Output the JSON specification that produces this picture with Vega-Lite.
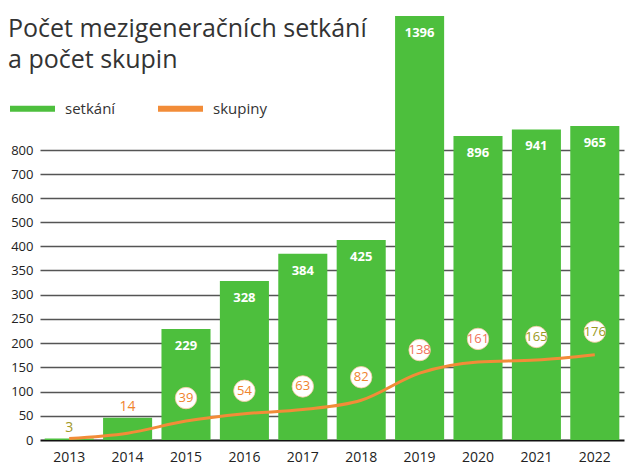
{
  "$schema": "https://vega.github.io/schema/vega-lite/v6.json",
  "width": 584,
  "height": 430,
  "autosize": "none",
  "padding": {"left": 40, "top": 10, "right": 3, "bottom": 30},
  "background": "white",
  "title": {
    "text": ["Počet mezigeneračních setkání", "a počet skupin"],
    "anchor": "start",
    "orient": "top",
    "frame": "group",
    "dx": -32,
    "dy": 63,
    "offset": 0,
    "fontSize": 25,
    "font": "Open Sans",
    "fontWeight": "normal",
    "color": "#333333",
    "lineHeight": 31,
    "baseline": "top"
  },
  "config": {"view": {"stroke": null}, "font": "Open Sans"},
  "data": {
    "values": [
      {"year": 2013, "setkani": 3, "skupiny": 3},
      {"year": 2014, "setkani": 46, "skupiny": 14},
      {"year": 2015, "setkani": 229, "skupiny": 39},
      {"year": 2016, "setkani": 328, "skupiny": 54},
      {"year": 2017, "setkani": 384, "skupiny": 63},
      {"year": 2018, "setkani": 425, "skupiny": 82},
      {"year": 2019, "setkani": 1396, "skupiny": 138},
      {"year": 2020, "setkani": 896, "skupiny": 161},
      {"year": 2021, "setkani": 941, "skupiny": 165},
      {"year": 2022, "setkani": 965, "skupiny": 176}
    ]
  },
  "encoding": {
    "x": {
      "field": "year",
      "type": "ordinal",
      "scale": {"paddingInner": 0.16, "paddingOuter": 0.08},
      "axis": {
        "title": null,
        "labelAngle": 0,
        "ticks": false,
        "domain": false,
        "labelFontSize": 14,
        "labelColor": "#222222",
        "labelPadding": 10,
        "labelFont": "Open Sans"
      }
    }
  },
  "layer": [
    {
      "mark": {"type": "bar"},
      "encoding": {
        "y": {
          "field": "setkani",
          "type": "quantitative",
          "title": null,
          "scale": {"domain": [0, 400, 800, 965, 1396], "range": [430, 236, 140, 116, 6], "nice": false, "zero": false},
          "axis": {
            "values": [0, 50, 100, 150, 200, 250, 300, 350, 400, 500, 600, 700, 800],
            "tickCount": 30,
            "labelOverlap": false,
            "ticks": false,
            "domain": false,
            "labelFontSize": 13,
            "labelColor": "#222222",
            "labelPadding": 7,
            "labelFont": "Open Sans",
            "gridColor": {"condition": {"test": "datum.value === 0", "value": "#111111"}, "value": "#555555"},
            "gridWidth": {"condition": {"test": "datum.value === 0", "value": 2}, "value": 1.5}
          }
        },
        "color": {
          "datum": "setkání",
          "type": "nominal",
          "scale": {"domain": ["setkání", "skupiny"], "range": ["#4dbf3d", "#f28c38"]},
          "legend": {
            "orient": "none",
            "legendX": -30,
            "legendY": 76,
            "direction": "horizontal",
            "title": null,
            "symbolType": "M-1,-0.13H1V0.13H-1Z",
            "symbolSize": 2025,
            "symbolStrokeWidth": 0,
            "labelFontSize": 15,
            "labelColor": "#333333",
            "labelFont": "Open Sans",
            "columnPadding": 42,
            "labelOffset": 10
          }
        }
      }
    },
    {
      "mark": {"type": "line", "color": "#f28c38", "strokeWidth": 3, "interpolate": "monotone"},
      "encoding": {"y": {"field": "skupiny", "type": "quantitative", "title": null}}
    },
    {
      "transform": [{"filter": "datum.year >= 2015"}],
      "mark": {"type": "text", "color": "white", "fontSize": 13, "fontWeight": "bold", "baseline": "middle", "dy": 17},
      "encoding": {
        "y": {"field": "setkani", "type": "quantitative", "title": null},
        "text": {"field": "setkani", "type": "quantitative"}
      }
    },
    {
      "transform": [{"filter": "datum.year < 2015"}],
      "mark": {"type": "text", "fontSize": 14, "baseline": "middle", "dy": -11},
      "encoding": {
        "y": {"field": "setkani", "type": "quantitative", "title": null},
        "text": {"field": "skupiny", "type": "quantitative"},
        "color": {"condition": {"test": "datum.year == 2013", "value": "#a39a2a"}, "value": "#f0842e"}
      }
    },
    {
      "transform": [{"filter": "datum.year >= 2015"}],
      "mark": {"type": "point", "filled": true, "color": "white", "size": 460, "yOffset": -23, "opacity": 1, "stroke": "#f7c9a0", "strokeWidth": 0.8},
      "encoding": {"y": {"field": "skupiny", "type": "quantitative", "title": null}}
    },
    {
      "transform": [{"filter": "datum.year >= 2015"}],
      "mark": {"type": "text", "fontSize": 13, "baseline": "middle", "yOffset": -23},
      "encoding": {
        "y": {"field": "skupiny", "type": "quantitative", "title": null},
        "text": {"field": "skupiny", "type": "quantitative"},
        "color": {
          "condition": [
            {"test": "datum.year >= 2021", "value": "#9a9a22"},
            {"test": "datum.year == 2019 || datum.year == 2020", "value": "#f0745a"}
          ],
          "value": "#f0842e"
        }
      }
    }
  ]
}
